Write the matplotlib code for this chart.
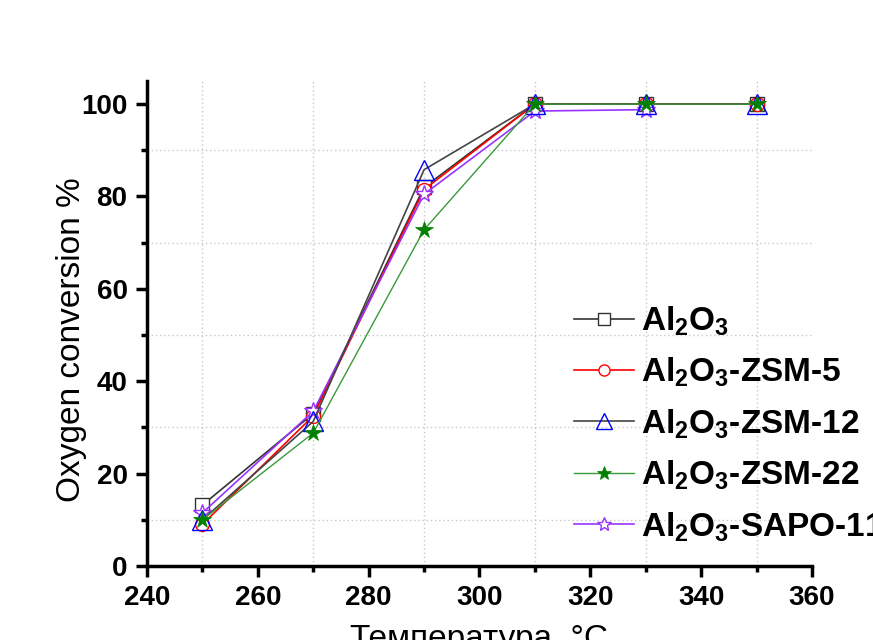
import numpy as np
import matplotlib.pyplot as plt
from matplotlib.ticker import MultipleLocator

plt.rcParams['font.family'] = ['Liberation Sans', 'DejaVu Sans']
plt.rcParams['mathtext.fontset'] = 'custom'
plt.rcParams['mathtext.rm'] = 'Liberation Sans:bold'
plt.rcParams['mathtext.bf'] = 'Liberation Sans:bold'

temps = [250, 270, 290, 310, 330, 350]
al2o3 = [13.2, 33.0, 82.0, 100, 100, 100]
zsm5 = [9.0, 32.5, 81.5, 100, 100, 100]
zsm12 = [10.0, 31.3, 85.8, 100, 100, 100]
zsm22 = [10.0, 28.8, 72.8, 100, 100, 100]
sapo_t = [250, 270, 290, 310, 330]
sapo11 = [11.5, 33.5, 80.5, 98.5, 98.8]

fig = plt.figure(figsize=(8.73, 6.4), dpi=100)
ax = fig.add_axes([0.1684, 0.1156, 0.7617, 0.7578])

ax.plot(temps, al2o3, color='#333333', lw=1.2, marker='s', ms=10, mfc='white',
        mec='#333333', mew=1.0, label=r'Al$_2$O$_3$', zorder=3)
ax.plot(temps, zsm5, color='red', lw=1.2, marker='o', ms=10, mfc='white',
        mec='red', mew=1.0, label=r'Al$_2$O$_3$-ZSM-5', zorder=3)
ax.plot(temps, zsm12, color='#444444', lw=1.2, marker='^', ms=15, mfc='none',
        mec='blue', mew=1.0, label=r'Al$_2$O$_3$-ZSM-12', zorder=4)
ax.plot(temps, zsm22, color='#3a9a3a', lw=1.0, marker='*', ms=13, mfc='green',
        mec='green', mew=0.5, label=r'Al$_2$O$_3$-ZSM-22', zorder=5)
ax.plot(sapo_t, sapo11, color='#9933ff', lw=1.2, marker='*', ms=13, mfc='white',
        mec='#9933ff', mew=1.0, label=r'Al$_2$O$_3$-SAPO-11', zorder=3)

ax.set_xlim(240, 360)
ax.set_ylim(0, 105)
ax.xaxis.set_major_locator(MultipleLocator(20))
ax.xaxis.set_minor_locator(MultipleLocator(10))
ax.yaxis.set_major_locator(MultipleLocator(20))
ax.yaxis.set_minor_locator(MultipleLocator(10))
ax.grid(False)
for v in [250, 270, 290, 310, 330, 350]:
    ax.axvline(v, color='#c8c8c8', lw=1.0, ls=(0, (1, 2)), zorder=0)
for v in [10, 30, 50, 70, 90]:
    ax.axhline(v, color='#c8c8c8', lw=1.0, ls=(0, (1, 2)), zorder=0)

for s in ['top', 'right']:
    ax.spines[s].set_visible(False)
for s in ['left', 'bottom']:
    ax.spines[s].set_linewidth(2.5)
ax.tick_params(which='major', direction='out', length=8, width=2.5,
               labelsize=20, pad=6)
ax.tick_params(which='minor', direction='out', length=4, width=2.5)
for lbl in ax.get_xticklabels() + ax.get_yticklabels():
    lbl.set_fontweight('bold')

ax.set_ylabel('Oxygen conversion %', fontsize=24)
ax.yaxis.set_label_coords(-0.09, 0.466)
ax.set_xlabel('Температура, °C', fontsize=24, labelpad=9)

leg = ax.legend(loc='upper left', bbox_to_anchor=(0.622, 0.567), frameon=False,
                prop={'size': 24, 'weight': 'bold'}, handlelength=1.8,
                labelspacing=0.53, handletextpad=0.2, borderaxespad=0,
                markerscale=0.8)
leg.set_clip_on(False)

fig.savefig('out.png', dpi=100)
